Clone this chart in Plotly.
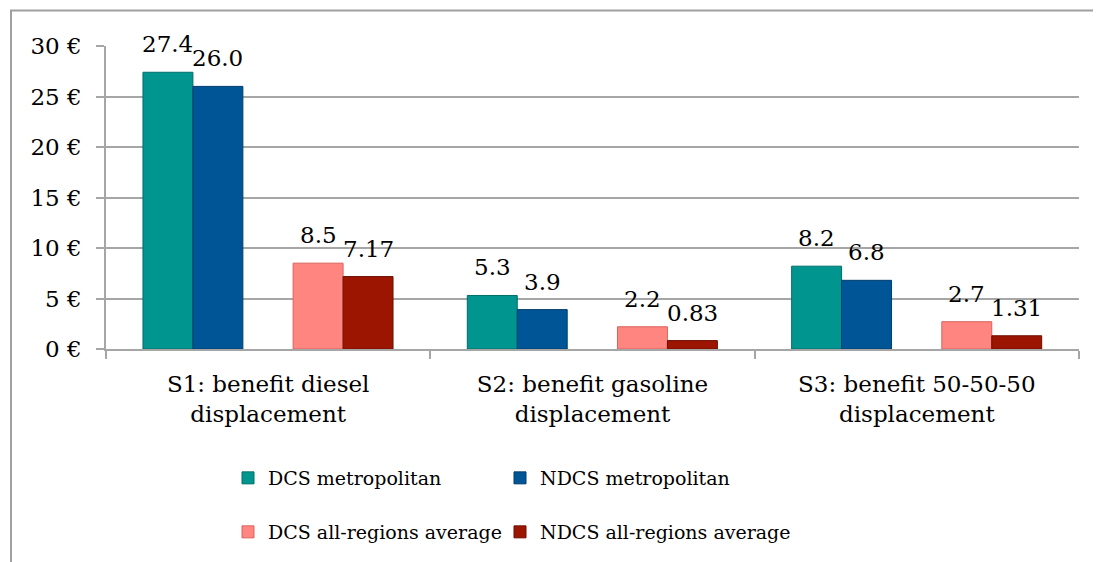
import plotly.graph_objects as go

categories = ["S1: benefit diesel<br>displacement",
              "S2: benefit gasoline<br>displacement",
              "S3: benefit 50-50-50<br>displacement"]
series_names = ["DCS metropolitan", "NDCS metropolitan",
                "DCS all-regions average", "NDCS all-regions average"]
dcs_metro = [27.4, 5.3, 8.2]
ndcs_metro = [26.0, 3.9, 6.8]
dcs_all = [8.5, 2.2, 2.7]
ndcs_all = [7.17, 0.83, 1.31]
label_decimals = [1, 1, 1, 2]
y_tickvals = [0, 5, 10, 15, 20, 25, 30]
y_ticktext = ["0 €", "5 €", "10 €", "15 €", "20 €", "25 €", "30 €"]

colors = ["#00968F", "#005596", "#FF8580", "#9C1500"]
line_colors = ["#006E69", "#003D6E", "#D9625D", "#6E0E00"]
offsets = [-0.386, -0.232, 0.077, 0.231]
bar_w = 0.154
legend_ids = ["legend", "legend2", "legend3", "legend4"]
# legend slot (page px): left edge x, row centre y
legend_left = [228, 500, 228, 500]
legend_row = [478, 478, 532, 532]

OFF = 8  # page body margin
W, H = 1101, 562
ML = 106 - OFF
MT = 46 - OFF
plot_right = 1079 - OFF
plot_bottom = 349 - OFF
MR = W - plot_right
MB = H - plot_bottom
plot_w = W - ML - MR
plot_h = H - MT - MB
cat_px = plot_w / len(categories)

FONT = "DejaVu Serif"
FS = 23
LFS = 19
fig = go.Figure()
all_series = [dcs_metro, ndcs_metro, dcs_all, ndcs_all]
for i, (name, vals) in enumerate(zip(series_names, all_series)):
    fig.add_trace(go.Bar(
        x=categories, y=vals, name=name,
        width=bar_w, offset=offsets[i], legend=legend_ids[i],
        marker=dict(color=colors[i], line=dict(color=line_colors[i], width=1)),
    ))

annotations = []
for i, vals in enumerate(all_series):
    for c, v in zip(categories, vals):
        annotations.append(dict(
            x=c, y=v, xref="x", yref="y",
            text=f"{v:.{label_decimals[i]}f}", showarrow=False,
            xshift=(offsets[i] + bar_w / 2) * cat_px,
            yanchor="bottom", yshift=13,
            font=dict(family=FONT, size=FS, color="#000000"),
        ))

legends = {}
for i, lid in enumerate(legend_ids):
    legends[lid] = dict(
        orientation="h", xanchor="left", yanchor="middle",
        x=(legend_left[i] - OFF - ML) / plot_w,
        y=(plot_bottom - (legend_row[i] - OFF)) / plot_h,
        font=dict(family=FONT, size=LFS, color="#000000"),
        itemwidth=30, bgcolor="rgba(0,0,0,0)")

fig.update_layout(
    width=W, height=H,
    margin=dict(l=ML, r=MR, t=MT, b=MB),
    paper_bgcolor="white", plot_bgcolor="white",
    barmode="overlay",
    font=dict(family=FONT, size=FS, color="#000000"),
    annotations=annotations,
    showlegend=True,
    shapes=[dict(type="rect", xref="paper", yref="paper",
                 x0=(11 - OFF - ML) / plot_w, x1=1.2,
                 y0=-1.0, y1=(plot_bottom - (10.5 - OFF)) / plot_h,
                 line=dict(color="#A0A0A0", width=2), fillcolor="rgba(0,0,0,0)",
                 layer="below")],
    **legends,
)
fig.update_yaxes(range=[0, 30], tickvals=y_tickvals, ticktext=y_ticktext,
                 showgrid=True, gridcolor="#A6A6A6", gridwidth=1.5,
                 showline=True, linecolor="#A6A6A6", linewidth=1.5,
                 ticks="outside", ticklen=8, tickcolor="#A6A6A6", tickwidth=1.5,
                 ticklabelstandoff=10, zeroline=False,
                 tickfont=dict(family=FONT, size=FS))
fig.update_xaxes(showline=True, linecolor="#A6A6A6", linewidth=1.5,
                 ticks="outside", ticklen=8, tickcolor="#A6A6A6", tickwidth=1.5,
                 tickson="boundaries", showgrid=False, ticklabelstandoff=14,
                 tickfont=dict(family=FONT, size=FS))

fig.write_html("out.html")
